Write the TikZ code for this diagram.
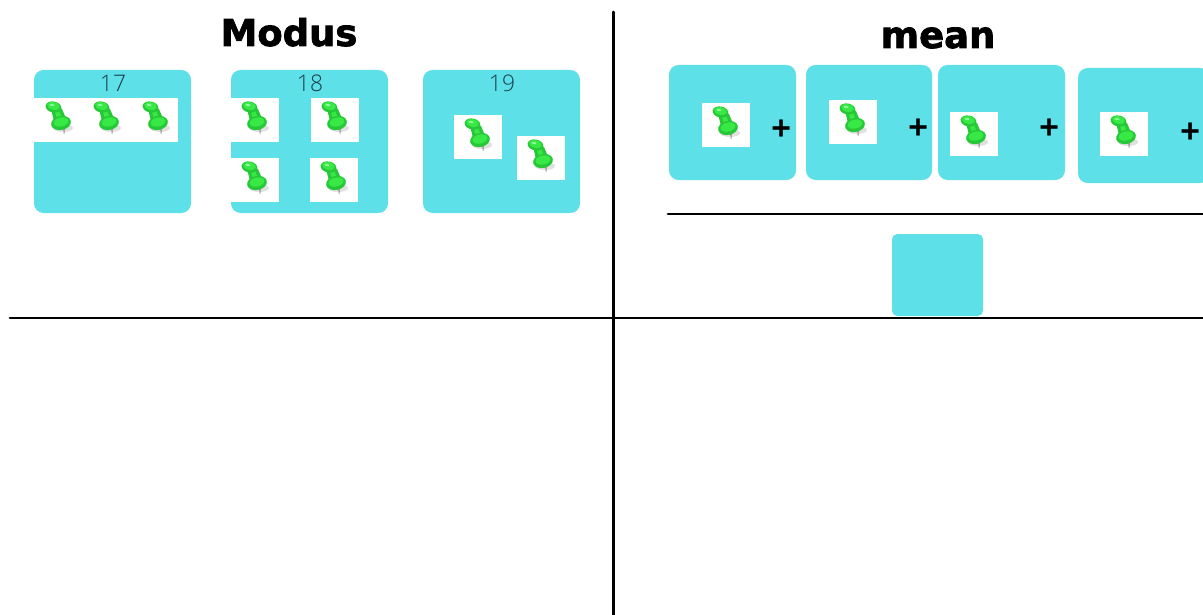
\documentclass[tikz,border=0pt]{standalone}
\usepackage{fontspec}
\setmainfont{Open Sans}
\newfontfamily\titlefont[FakeBold=2]{DejaVu Sans Bold}
\newfontfamily\plusfont[FakeBold=1.5]{DejaVu Sans Bold}
\newfontfamily\numfont{Open Sans Light}
\definecolor{cardcyan}{HTML}{5EE0E8}
\definecolor{pinA}{HTML}{38E845}
\definecolor{pinB}{HTML}{26C838}
\definecolor{pinC}{HTML}{8CF898}
\definecolor{numink}{HTML}{163F48}
\tikzset{
  card/.style={fill=cardcyan,rounded corners=5.5},
  smallcard/.style={fill=cardcyan,rounded corners=3},
  tile/.style={fill=white},
  rule/.style={draw=black,line width=1.7pt,line cap=round},
  headline/.style={font=\titlefont\fontsize{21}{24}\selectfont,inner sep=0pt,anchor=base},
  cardnum/.style={font=\numfont\fontsize{13}{14}\selectfont,text=numink,inner sep=0pt},
  plus/.style={font=\plusfont\fontsize{15}{16}\selectfont,inner sep=0pt},
  pin/.pic={
    \fill[black!12] (4,8) ellipse [x radius=10,y radius=4];
    \fill[black!45] (4,6) -- (6,6) -- (5.4,14) -- (4.8,14) -- cycle;
    \fill[pinB] (-8,-11) -- (3,-11) -- (8,1) -- (-5,1) -- cycle;
    \fill[pinA] (-5,-11) -- (-0.5,-11) -- (3.5,0) -- (-1.5,0) -- cycle;
    \fill[pinB,rotate around={12:(2,3)}] (2,3) ellipse [x radius=10,y radius=7];
    \fill[pinA,rotate around={12:(2,2)}] (2,2) ellipse [x radius=7.5,y radius=4.5];
    \fill[pinB,rotate around={-12:(-5.5,-13)}] (-5.5,-13) ellipse [x radius=8,y radius=5.5];
    \fill[pinA,rotate around={-12:(-5.5,-14)}] (-5.5,-14) ellipse [x radius=6.5,y radius=3.8];
    \fill[pinC,rotate around={-12:(-7,-15)}] (-7,-15) ellipse [x radius=2.5,y radius=1.2];
  }
}
\newcommand{\pincell}[2]{%
  \fill[tile] (#1-24,#2-22) rectangle (#1+24,#2+22);
  \pic at (#1,#2) {pin};
}
\begin{document}
\begin{tikzpicture}[x=0.02cm,y=-0.02cm]
\useasboundingbox (0,0) rectangle (1203,615);
\fill[white] (0,0) rectangle (1203,615);
% Modus cards
\fill[card] (34,70) rectangle (191,213);
\fill[card] (231,70) rectangle (388,213);
\fill[card] (423,70) rectangle (580,213);
\node[cardnum] (n17) at (113,83) {17};
\node[cardnum] (n18) at (310,83) {18};
\node[cardnum] (n19) at (502,83) {19};
\fill[tile] (33,98) rectangle (178,142);
\pic at (59,120) {pin};
\pic at (107,120) {pin};
\pic at (156,120) {pin};
\pincell{255}{120}
\pincell{335}{120}
\pincell{255}{180}
\pincell{334}{180}
\pincell{478}{137}
\pincell{541}{158}
% mean cards
\fill[card] (669,65) rectangle (796,180);
\fill[card] (806,65) rectangle (932,180);
\fill[card] (938,65) rectangle (1065,180);
\fill[card] (1078,68) rectangle (1210,183);
\fill[smallcard] (892,234) rectangle (983,316);
\pincell{726}{125}
\pincell{853}{122}
\pincell{974}{134}
\pincell{1124}{134}
\node[plus] (p1) at (781,128) {+};
\node[plus] (p2) at (918,127) {+};
\node[plus] (p3) at (1049,127) {+};
\node[plus] (p4) at (1190,131) {+};
% titles
\node[headline] (modus) at (289,46) {Modus};
\node[headline] (mean) at (938,48) {mean};
% rules
\coordinate (vtop) at (613,12);
\coordinate (vbot) at (613,615);
\coordinate (hleft) at (10,318);
\coordinate (hright) at (1203,318);
\coordinate (fleft) at (668,214);
\coordinate (fright) at (1203,214);
\draw[rule] (vtop) -- (vbot);
\draw[rule] (hleft) -- (hright);
\draw[rule] (fleft) -- (fright);
\end{tikzpicture}
\end{document}
